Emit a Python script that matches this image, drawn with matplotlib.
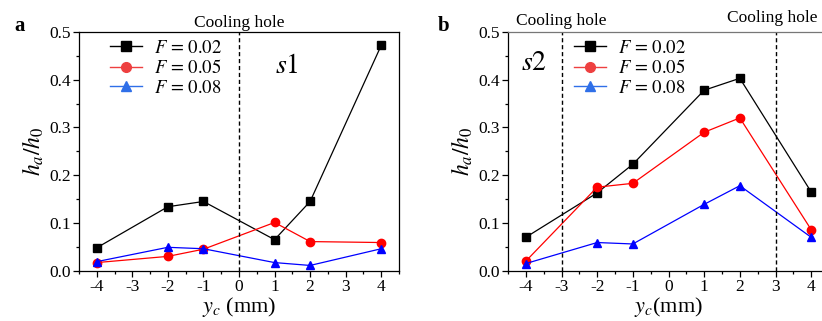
import matplotlib.pyplot as plt
from matplotlib.lines import Line2D
from matplotlib.ticker import MultipleLocator

plt.rcParams['font.family'] = 'Liberation Serif'
plt.rcParams['mathtext.fontset'] = 'stix'

# data
y_c = [-4, -2, -1, 1, 2, 4]
labels = ['$F$ = 0.02', '$F$ = 0.05', '$F$ = 0.08']

s1_f002 = [0.048, 0.134, 0.145, 0.065, 0.145, 0.472]
s1_f005 = [0.017, 0.030, 0.045, 0.101, 0.061, 0.059]
s1_f008 = [0.019, 0.049, 0.046, 0.017, 0.011, 0.046]

s2_f002 = [0.070, 0.163, 0.223, 0.378, 0.403, 0.165]
s2_f005 = [0.020, 0.175, 0.183, 0.290, 0.320, 0.086]
s2_f008 = [0.015, 0.059, 0.056, 0.139, 0.178, 0.070]

colors = ['black', 'red', 'blue']
legend_colors = ['black', '#ee4040', '#2f6fe8']
markers = ['s', 'o', '^']

fig = plt.figure(figsize=(8.22, 3.21), dpi=100)
ax1 = fig.add_axes([79/822, 1 - 270.7/321, 320/822, 238.7/321])
ax2 = fig.add_axes([508/822, 1 - 270.7/321, 321/822, 238.7/321])


def draw(ax, series, holes):
    for vals, c, m in zip(series, colors, markers):
        ax.plot(y_c, vals, color=c, marker=m, markersize=6, lw=0.9)
    for h in holes:
        ax.axvline(h, color='black', ls='--', lw=1.0, dashes=(3, 2))
    ax.set_xlim(-4.5, 4.5)
    ax.set_ylim(0, 0.5)
    ax.set_xticks([-4, -3, -2, -1, 0, 1, 2, 3, 4])
    ax.set_xticklabels(['-4', '-3', '-2', '-1', '0', '1', '2', '3', '4'])
    ax.set_yticks([0.0, 0.1, 0.2, 0.3, 0.4, 0.5])
    ax.set_yticklabels(['0.0', '0.1', '0.2', '0.3', '0.4', '0.5'])
    ax.xaxis.set_minor_locator(MultipleLocator(0.5))
    ax.yaxis.set_minor_locator(MultipleLocator(0.05))
    ax.tick_params(which='both', direction='out', labelsize=12.5, width=0.9)
    ax.tick_params(which='major', length=4)
    ax.tick_params(which='minor', length=2)
    ax.tick_params(axis='x', pad=2)
    ax.tick_params(axis='y', pad=2)
    ax.set_ylabel('$h_a/h_0$', fontsize=17, labelpad=2)
    for sp in ax.spines.values():
        sp.set_linewidth(0.9)
    handles = [Line2D([], [], color=c, marker=m, markersize=7, lw=1.0)
               for c, m in zip(legend_colors, markers)]
    return handles


def add_legend(ax, handles, x0):
    ax.legend(handles, labels, loc='upper left', bbox_to_anchor=(x0, 0.968),
              frameon=False, borderpad=0, borderaxespad=0,
              handlelength=1.7, handletextpad=0.65, labelspacing=0.13,
              prop={'family': 'STIXGeneral', 'size': 13.5})


h = draw(ax1, [s1_f002, s1_f005, s1_f008], [0])
ax1.set_xlabel('$y_c$ (mm)', fontsize=16, labelpad=0)
add_legend(ax1, h, 0.097)
ax1.text(1.34, 0.427, '$s1$', fontsize=20, ha='center', va='center')
ax1.text(0, 0.518, 'Cooling hole', fontsize=12.5, ha='center', va='center')
fig.text(14/822, 1 - 26/321, 'a', fontsize=15, fontweight='bold', ha='left', va='center')

h = draw(ax2, [s2_f002, s2_f005, s2_f008], [-3, 3])
ax2.set_xlabel('$y_c$(mm)', fontsize=16, labelpad=0)
ax2.spines['top'].set_color('#777777')
add_legend(ax2, h, 0.206)
ax2.text(-3.78, 0.433, '$s2$', fontsize=20, ha='center', va='center')
ax2.text(-3, 0.523, 'Cooling hole', fontsize=12.5, ha='center', va='center')
ax2.text(2.92, 0.529, 'Cooling hole', fontsize=12.5, ha='center', va='center')
fig.text(438/822, 1 - 26/321, 'b', fontsize=15, fontweight='bold', ha='left', va='center')

fig.savefig('out.png', dpi=100)
